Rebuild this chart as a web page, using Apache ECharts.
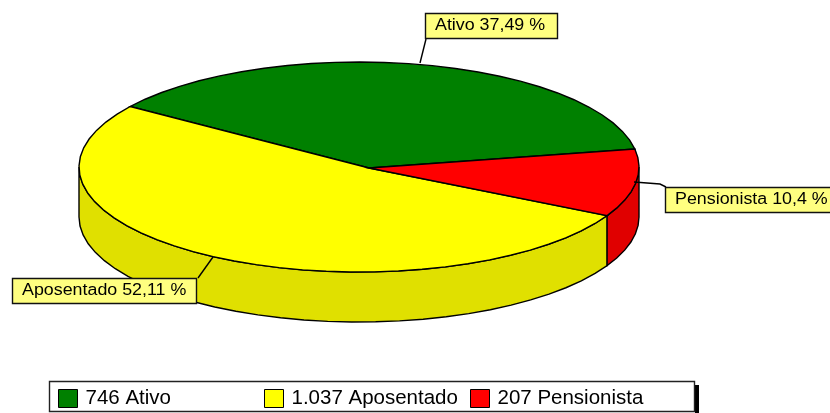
<!DOCTYPE html>
<html><head><meta charset="utf-8">
<style>html,body{margin:0;padding:0;background:#fff}#c{width:830px;height:413px}</style>
<script src="https://cdn.jsdelivr.net/npm/echarts@6/dist/echarts.min.js"></script>
</head><body><div id="c"></div>
<script>
const categories = ['Ativo', 'Aposentado', 'Pensionista'];
const counts = [746, 1037, 207];
const countLabels = ['746', '1.037', '207'];
const percentLabels = ['37,49 %', '52,11 %', '10,4 %'];
const sliceOrder = [0, 2, 1];

const topColors = ['#008000', '#ffff00', '#ff0000'];
const sideColors = ['#008000', '#e0e000', '#e00000'];

const P = {cx: 359, cy: 167, rx: 280, ry: 105, depth: 50, ax: 369, ay: 168, start: 144.8, step: 5};
const callouts = [
  {box: [425, 13, 132, 25], text: [435, 26], line: [[420, 63], [426, 39]]},
  {box: [12, 278, 184, 25], text: [22, 291], line: [[213, 257], [198, 278]]},
  {box: [665, 187, 170, 25], text: [675, 200], line: [[634, 182], [660, 184], [666, 187]]}
];
const legendLeft = [58, 264, 470];

const total = counts.reduce((a, b) => a + b, 0);
function pt(deg, dy) {
  const r = deg * Math.PI / 180;
  return [P.cx + P.rx * Math.cos(r), P.cy - P.ry * Math.sin(r) + (dy || 0)];
}
function range(i) {
  let a = P.start;
  for (const k of sliceOrder) {
    const sweep = counts[k] / total * 360;
    if (k === i) return [a, a - sweep];
    a -= sweep;
  }
}
function arc(a0, a1, dy) {
  const pts = [], n = Math.max(2, Math.ceil(Math.abs(a0 - a1) / P.step));
  for (let j = 0; j <= n; j++) pts.push(pt(a0 + (a1 - a0) * j / n, dy));
  return pts;
}
function renderSlice(i) {
  return function () {
    const [a0, a1] = range(i);
    const children = [];
    const stroke = {stroke: '#000', lineWidth: 1.4};
    const hi = Math.min(a0, 0), lo = Math.max(a1, -180);
    if (hi > lo) {
      const pts = arc(hi, lo, 0).concat(arc(lo, hi, P.depth));
      children.push({type: 'polygon', z2: 1, shape: {points: pts},
        style: Object.assign({fill: sideColors[i]}, stroke)});
    }
    children.push({type: 'polygon', z2: 2,
      shape: {points: [[P.ax, P.ay]].concat(arc(a0, a1, 0))},
      style: Object.assign({fill: topColors[i]}, stroke)});
    const c = callouts[i];
    children.push({type: 'polyline', z2: 5, shape: {points: c.line},
      style: {stroke: '#000', lineWidth: 1.4, fill: null}});
    children.push({type: 'rect', z2: 6,
      shape: {x: c.box[0] + .5, y: c.box[1] + .5, width: c.box[2], height: c.box[3]},
      style: {fill: '#ffff80', stroke: '#111', lineWidth: 1.4}});
    children.push({type: 'text', z2: 7, x: c.text[0], y: c.text[1], scaleX: 1.115,
      style: {text: categories[i] + ' ' + percentLabels[i], fill: '#000',
        font: '16px "Liberation Sans"', textAlign: 'left', textVerticalAlign: 'middle'}});
    return {type: 'group', children};
  };
}

const chart = echarts.init(document.getElementById('c'), null, {renderer: 'canvas'});
chart.setOption({
  animation: false,
  backgroundColor: '#fff',
  legend: categories.map((name, i) => ({
    data: [name], left: legendLeft[i], top: 388, padding: 0,
    itemWidth: 19, itemHeight: 18, icon: 'rect', selectedMode: false,
    itemStyle: {borderColor: '#000', borderWidth: 1},
    textStyle: {fontFamily: 'Liberation Sans', fontSize: 20.5, color: '#000', padding: [0, 0, 0, 3]},
    formatter: () => countLabels[i] + ' ' + name
  })),
  graphic: [
    {type: 'rect', z: 0, shape: {x: 695, y: 385, width: 4, height: 28}, style: {fill: '#000'}},
    {type: 'rect', z: 0, shape: {x: 49.5, y: 381.5, width: 645, height: 30},
      style: {fill: '#fff', stroke: '#222', lineWidth: 1.4}}
  ],
  series: categories.map((name, i) => ({
    type: 'custom', name, coordinateSystem: 'none', silent: true, clip: false,
    itemStyle: {color: topColors[i]},
    data: [[counts[i]]],
    renderItem: renderSlice(i)
  }))
});
</script></body></html>
